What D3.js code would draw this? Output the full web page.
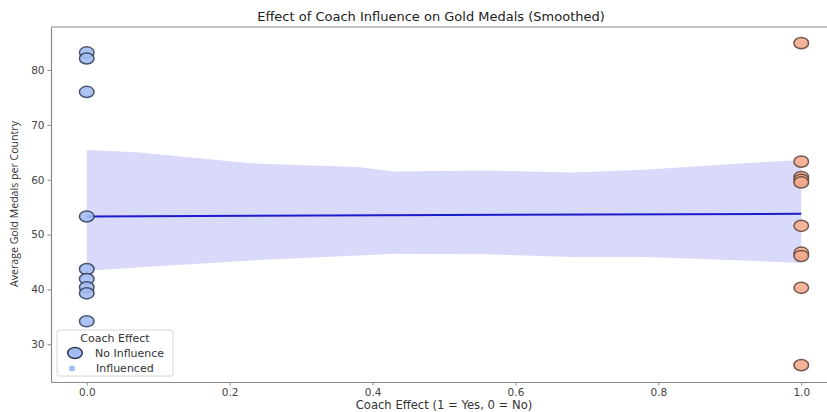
<!DOCTYPE html>
<html>
<head>
<meta charset="utf-8">
<script src="https://cdn.jsdelivr.net/npm/d3@7"></script>
<style>
  html, body { margin: 0; padding: 0; background: #fff; }
  svg { display: block; font-family: "DejaVu Sans", sans-serif; }
</style>
</head>
<body>
<svg id="chart" width="827" height="412"></svg>
<script>
// Average gold medals per country, split by coach effect (0 = No, 1 = Yes)
const noInfluence = [83.2, 82.1, 76.0, 53.3, 43.7, 41.9, 40.4, 39.3, 34.2];
const influenced = [84.9, 63.3, 60.5, 60.0, 59.5, 51.6, 46.7, 46.1, 40.3, 26.2];

// Smoothed trend and its confidence band
const trendX = [0, 1];
const trendY = [53.3, 53.8];
const bandX = [0, 0.07, 0.23, 0.38, 0.43, 0.56, 0.68, 0.78, 0.92, 1.0];
const bandUpper = [65.4, 65.0, 63.0, 62.3, 61.5, 61.7, 61.3, 61.8, 63.0, 63.6];
const bandLower = [43.4, 44.0, 45.3, 46.2, 46.5, 46.4, 45.9, 45.9, 45.3, 44.8];

const xTicks = [0, 0.2, 0.4, 0.6, 0.8, 1.0];
const yTicks = [30, 40, 50, 60, 70, 80];

const svg = d3.select("#chart");
const plotLeft = 51, plotRight = 837, plotTop = 27, plotBottom = 382;

const x = d3.scaleLinear().domain([-0.05, 1.05]).range([plotLeft, plotRight]);
const y = d3.scaleLinear().domain([23.13, 87.84]).range([plotBottom, plotTop]);

// Confidence band
const band = bandX.map((v, i) => ({ x: v, lo: bandLower[i], hi: bandUpper[i] }));
svg.append("path")
  .datum(band)
  .attr("fill", "#d9d9f9")
  .attr("d", d3.area().x(d => x(d.x)).y0(d => y(d.lo)).y1(d => y(d.hi)));

// Trend line
svg.append("path")
  .datum(trendX.map((v, i) => ({ x: v, y: trendY[i] })))
  .attr("fill", "none")
  .attr("stroke", "#1c1ccc")
  .attr("stroke-width", 2)
  .attr("d", d3.line().x(d => x(d.x)).y(d => y(d.y)));

// Scatter points
function drawGroup(values, xv, fill, edge) {
  svg.append("g").selectAll("ellipse")
    .data(values)
    .join("ellipse")
    .attr("cx", x(xv))
    .attr("cy", d => y(d))
    .attr("rx", 7.3)
    .attr("ry", 5.6)
    .attr("fill", fill)
    .attr("fill-opacity", 0.9)
    .attr("stroke", edge)
    .attr("stroke-opacity", 0.85)
    .attr("stroke-width", 1.5);
}
drawGroup(noInfluence, 0, "#a3bdf2", "#2f3b55");
drawGroup(influenced, 1, "#f4ac8e", "#5b4038");

// Axes
const axisColor = "#8a8a8a";
const xAxis = svg.append("g")
  .attr("transform", `translate(0,${plotBottom})`)
  .call(d3.axisBottom(x).tickValues(xTicks).tickFormat(d3.format(".1f"))
    .tickSize(3.5).tickSizeOuter(0).tickPadding(3));
const yAxis = svg.append("g")
  .attr("transform", `translate(${plotLeft},0)`)
  .call(d3.axisLeft(y).tickValues(yTicks).tickFormat(d3.format("d"))
    .tickSize(3.5).tickSizeOuter(0).tickPadding(3));
[xAxis, yAxis].forEach(g => {
  g.select(".domain").attr("stroke", axisColor).attr("stroke-width", 1.2);
  g.selectAll(".tick line").attr("stroke", axisColor);
  g.selectAll(".tick text").attr("fill", "#444").attr("font-size", 10.5)
    .attr("font-family", "DejaVu Sans, sans-serif");
});
// top spine
svg.append("line")
  .attr("x1", plotLeft).attr("x2", plotRight).attr("y1", plotTop).attr("y2", plotTop)
  .attr("stroke", axisColor).attr("stroke-width", 1.2);

// Title and axis labels
svg.append("text")
  .attr("x", 431).attr("y", 21)
  .attr("text-anchor", "middle")
  .attr("font-size", 13).attr("fill", "#222")
  .text("Effect of Coach Influence on Gold Medals (Smoothed)");

svg.append("text")
  .attr("x", 444).attr("y", 409)
  .attr("text-anchor", "middle")
  .attr("font-size", 11.6).attr("fill", "#333")
  .text("Coach Effect (1 = Yes, 0 = No)");

svg.append("text")
  .attr("transform", "translate(18,204) rotate(-90)")
  .attr("text-anchor", "middle")
  .attr("font-size", 10.6).attr("fill", "#333")
  .attr("font-family", "Open Sans, sans-serif")
  .text("Average Gold Medals per Country");

// Legend
const legend = svg.append("g");
legend.append("rect")
  .attr("x", 57).attr("y", 330).attr("width", 116).attr("height", 46)
  .attr("rx", 2)
  .attr("fill", "#fff").attr("fill-opacity", 0.85)
  .attr("stroke", "#d6d6d6");
legend.append("text")
  .attr("x", 115).attr("y", 342)
  .attr("text-anchor", "middle")
  .attr("font-size", 11).attr("fill", "#333")
  .text("Coach Effect");
legend.append("ellipse")
  .attr("cx", 75).attr("cy", 353).attr("rx", 7.3).attr("ry", 5.6)
  .attr("fill", "#a3bdf2").attr("stroke", "#2f3b55").attr("stroke-width", 1.5);
legend.append("text")
  .attr("x", 95).attr("y", 357)
  .attr("font-size", 11).attr("fill", "#333")
  .text("No Influence");
legend.append("circle")
  .attr("cx", 72).attr("cy", 368.5).attr("r", 3)
  .attr("fill", "#a3bdf2");
legend.append("text")
  .attr("x", 96).attr("y", 371.5)
  .attr("font-size", 11).attr("fill", "#333")
  .text("Influenced");
</script>
</body>
</html>
